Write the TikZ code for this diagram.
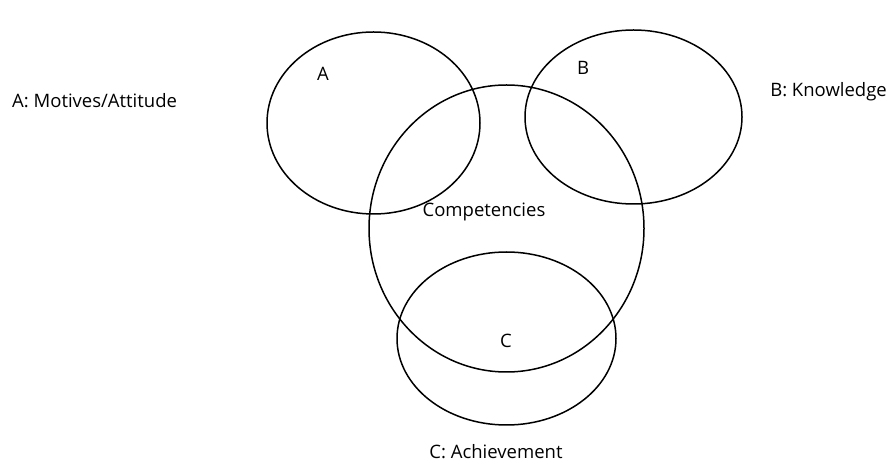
\documentclass[tikz,border=0pt]{standalone}
\usepackage{fontspec}
\setmainfont{Open Sans}
\begin{document}
\begin{tikzpicture}[x=1pt,y=1pt,
  ring/.style={draw=black,line width=1.5pt},
  lbl/.style={font=\fontsize{18.5}{21}\selectfont,inner sep=0pt}]
\useasboundingbox (0,0) rectangle (889,463);
\draw[ring] (373.5,340) ellipse [x radius=106.5,y radius=91];
\draw[ring] (633.5,346) ellipse [x radius=108.5,y radius=87];
\draw[ring] (506.5,234.5) ellipse [x radius=137.5,y radius=143.5];
\draw[ring] (506.5,124.5) ellipse [x radius=109.5,y radius=86.5];
\node[lbl] (a) at (323,389) {A};
\node[lbl] (b) at (583,395) {B};
\node[lbl] (comp) at (484,251) {Competencies};
\node[lbl] (c) at (506,122) {C};
\node[lbl,anchor=west] (la) at (12,362) {A: Motives/Attitude};
\node[lbl,anchor=east] (lb) at (887,371) {B: Knowledge};
\node[lbl,anchor=base] (lc) at (496,4) {C: Achievement};
\end{tikzpicture}
\end{document}
